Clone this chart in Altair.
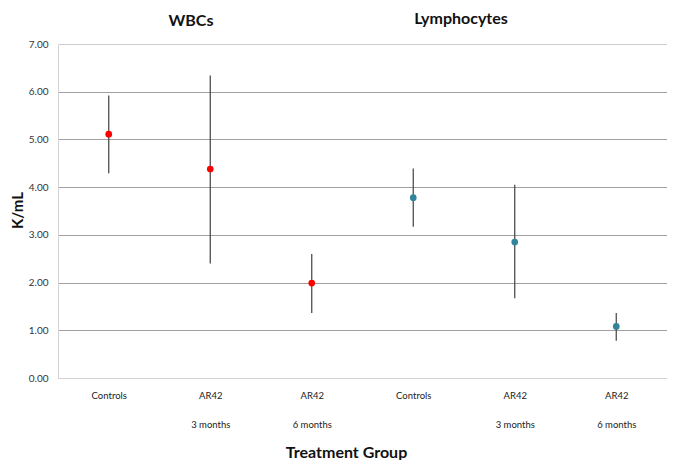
import altair as alt
import pandas as pd

groups = ["WBCs", "WBCs", "WBCs", "Lymphocytes", "Lymphocytes", "Lymphocytes"]
labels = ["Controls", "AR42|3 months", "AR42|6 months", "Controls", "AR42|3 months", "AR42|6 months"]
means = [5.11, 4.38, 1.99, 3.78, 2.85, 1.08]
upper = [5.92, 6.34, 2.60, 4.39, 4.05, 1.36]
lower = [4.29, 2.40, 1.36, 3.17, 1.67, 0.78]
panel_titles = ["WBCs", "Lymphocytes"]
colors = ["#FF0000", "#31849B"]

keys = [f"{i}|{lab}" for i, lab in enumerate(labels)]
df = pd.DataFrame({"key": keys, "group": groups, "mean": means, "upper": upper, "lower": lower})

FONT = "Lato"

x = alt.X(
    "key:N",
    sort=keys,
    scale=alt.Scale(type="point", padding=0.5),
    title="Treatment Group",
    axis=alt.Axis(
        labelExpr="slice(split(datum.value, '|'), 1)",
        labelAngle=0,
        labelFontSize=9.5,
        labelColor="#222222",
        labelLineHeight=29,
        labelPadding=12,
        ticks=False,
        domainColor="#d4d4d4",
        titleFontSize=16,
        titleFontWeight="bold",
        titleColor="#111111",
        titleX=288,
        titleY=74,
        titleBaseline="middle",
        titleAlign="center",
        grid=False,
    ),
)

y_axis = alt.Axis(
    values=[0, 1, 2, 3, 4, 5, 6, 7],
    format=".2f",
    labelFontSize=10,
    labelColor="#333333",
    labelPadding=10,
    ticks=False,
    domainColor="#d4d4d4",
    gridColor={"condition": {"test": "datum.value == 7", "value": "#cccccc"}, "value": "#a0a0a0"},
    title="K/mL",
    titleFontSize=15,
    titleFontWeight="bold",
    titleColor="#111111",
    titleX=-41,
    titleY=166,
    titleBaseline="middle",
    titleAlign="center",
    titleAngle=270,
)

base = alt.Chart(df)

rules = base.mark_rule(color="#404040", strokeWidth=1.2).encode(
    x=x,
    y=alt.Y("lower:Q", scale=alt.Scale(domain=[0, 7], nice=False), axis=y_axis),
    y2="upper:Q",
)

points = base.mark_circle(size=45, opacity=1).encode(
    x=x,
    y=alt.Y("mean:Q"),
    color=alt.Color("group:N", scale=alt.Scale(domain=panel_titles, range=colors), legend=None),
)

t1 = alt.Chart(pd.DataFrame({"t": [panel_titles[0]]})).mark_text(
    fontSize=16, fontWeight="bold", font=FONT, color="#111111", align="center", baseline="alphabetic"
).encode(text="t:N", x=alt.value(133), y=alt.value(-18))

t2 = alt.Chart(pd.DataFrame({"t": [panel_titles[1]]})).mark_text(
    fontSize=16, fontWeight="bold", font=FONT, color="#111111", align="center", baseline="alphabetic"
).encode(text="t:N", x=alt.value(403), y=alt.value(-20))

chart = (
    alt.layer(rules, points, t1, t2)
    .properties(
        width=609,
        height=334,
        autosize=alt.AutoSizeParams(type="none"),
        padding={"left": 50, "top": 36, "right": 0, "bottom": 82},
    )
    .configure(font=FONT)
    .configure_view(stroke=None)
    .configure_axis(labelFont=FONT, titleFont=FONT)
)

chart.save("out.html", embed_options={"renderer": "svg", "actions": False})
